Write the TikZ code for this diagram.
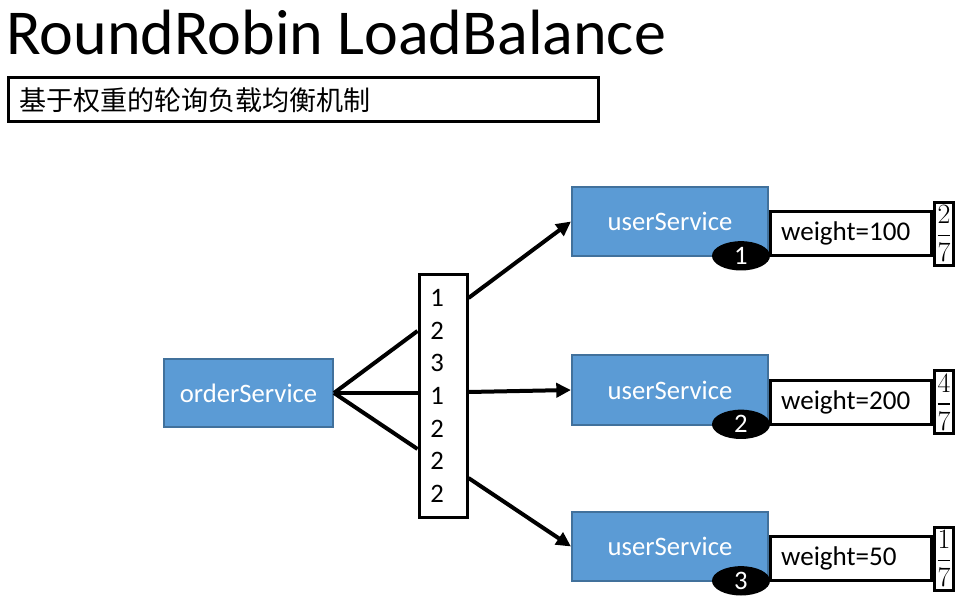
\RequirePackage{fix-cm}
\documentclass[tikz,border=0pt]{standalone}
\usepackage{fontspec}
\usepackage{amsmath}
\setmainfont{Carlito}
\newfontfamily\cjk{Noto Sans CJK SC}
\usetikzlibrary{positioning,calc,arrows.meta,shapes.geometric}
\definecolor{boxblue}{HTML}{5B9BD5}
\definecolor{boxedge}{HTML}{41719C}

\begin{document}
\begin{tikzpicture}[x=0.75pt,y=-0.75pt,
  service/.style={draw=boxedge,line width=1.5pt,fill=boxblue,text=white,minimum width=147pt,minimum height=52pt,font=\fontsize{20}{24}\selectfont},
  frame/.style={draw,line width=2.25pt,fill=white},
  link/.style={line width=3pt}]
  \useasboundingbox (0,0) rectangle (961,602);
  \node[anchor=base west,inner sep=0pt,font=\fontsize{48}{58}\selectfont] (title) at (6,55) {RoundRobin LoadBalance};
  \node[frame,anchor=west,minimum height=33pt,inner xsep=8pt,text width=426.5pt,align=left,font=\cjk\fontsize{20.3}{24}\selectfont] (desc) at (7,100) {基于权重的轮询负载均衡机制};

  \node[service,minimum width=126.75pt,minimum height=51pt] (order) at (248.5,393) {orderService};
  \node[frame,minimum height=181.5pt,inner xsep=8.5pt,text width=19pt,align=left,font=\fontsize{20}{24.5}\selectfont] (seq) at (443,396) {1\\2\\3\\1\\2\\2\\2};

  \foreach \i/\y/\w/\f in {1/221.5/100/2, 2/390/200/4, 3/546.5/50/1}{
    \node[service] (u\i) at (670,\y) {userService};
    \node[frame,minimum height=33pt,inner xsep=8pt,text width=104.75pt,align=left,anchor=south west,font=\fontsize{20.3}{24}\selectfont] (w\i) at (u\i.south east) {weight=\w};
    \node[frame,minimum width=14.25pt,minimum height=47.25pt,inner sep=0pt,anchor=west,font=\fontsize{21}{24}\selectfont] (f\i) at (w\i.east) {$\genfrac{}{}{1.2pt}{0}{\f}{7}$};
    \node[ellipse,fill=black,text=white,minimum width=43.5pt,minimum height=22pt,inner sep=0pt,font=\fontsize{20}{24}\selectfont] (n\i) at ([xshift=-21pt,yshift=1pt]u\i.south east) {\i};
  }

  % entry and exit points on the queue
  \foreach \i/\a/\b in {1/-65/-98, 2/-3/-4, 3/53/82}{
    \coordinate (in\i) at ($(seq.west)+(0,\a)$);
    \coordinate (out\i) at ($(seq.east)+(0,\b)$);
    \draw[link] (order.east) -- (in\i);
    \draw[link,-{Triangle[length=11pt,width=10.5pt]}] (out\i) -- (u\i.west);
  }
\end{tikzpicture}
\end{document}
